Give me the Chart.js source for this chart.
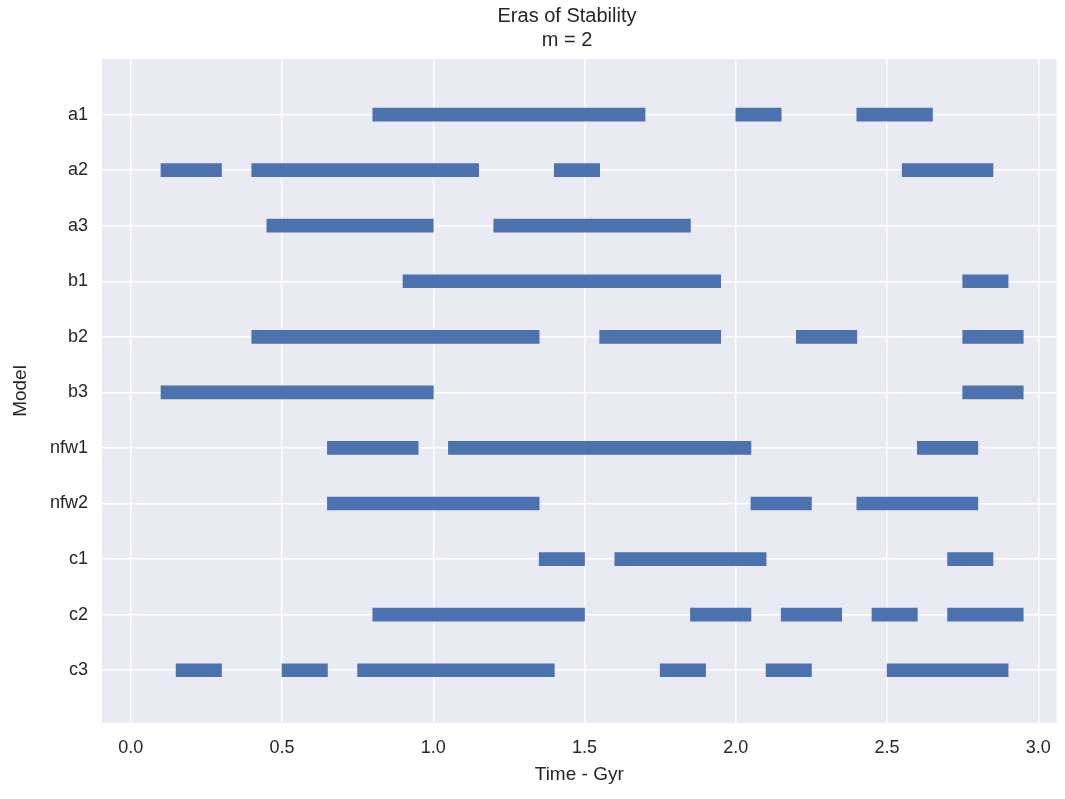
<!DOCTYPE html>
<html>
<head>
<meta charset="utf-8">
<script src="https://cdn.jsdelivr.net/npm/chart.js@4/dist/chart.umd.min.js"></script>
<style>
html,body{margin:0;padding:0;background:#fff;}
#wrap{width:1065px;height:799px;}
</style>
</head>
<body>
<div id="wrap"><canvas id="c" width="1065" height="799"></canvas></div>
<script>
// Models (rows, top to bottom)
const models = ["a1","a2","a3","b1","b2","b3","nfw1","nfw2","c1","c2","c3"];
// Eras of stability per model: [start, end] in Gyr
const eras_a1   = [[0.80,1.70],[2.00,2.15],[2.40,2.65]];
const eras_a2   = [[0.10,0.30],[0.40,1.15],[1.40,1.55],[2.55,2.85]];
const eras_a3   = [[0.45,1.00],[1.20,1.85]];
const eras_b1   = [[0.90,1.95],[2.75,2.90]];
const eras_b2   = [[0.40,1.35],[1.55,1.95],[2.20,2.40],[2.75,2.95]];
const eras_b3   = [[0.10,1.00],[2.75,2.95]];
const eras_nfw1 = [[0.65,0.95],[1.05,2.05],[2.60,2.80]];
const eras_nfw2 = [[0.65,1.35],[2.05,2.25],[2.40,2.80]];
const eras_c1   = [[1.35,1.50],[1.60,2.10],[2.70,2.85]];
const eras_c2   = [[0.80,1.50],[1.85,2.05],[2.15,2.35],[2.45,2.60],[2.70,2.95]];
const eras_c3   = [[0.15,0.30],[0.50,0.65],[0.75,1.40],[1.75,1.90],[2.10,2.25],[2.50,2.90]];
// X tick values
const xTicks = [0.0,0.5,1.0,1.5,2.0,2.5,3.0];

const allEras = [eras_a1,eras_a2,eras_a3,eras_b1,eras_b2,eras_b3,eras_nfw1,eras_nfw2,eras_c1,eras_c2,eras_c3];
const points = [];
allEras.forEach((list, i) => list.forEach(seg => points.push({x: seg, y: i})));

const FONT = '"Liberation Sans", Arial, sans-serif';
const TXT = '#262626';

const titlePlugin = {
  id: 'twoLineTitle',
  afterDraw(chart) {
    const ctx = chart.ctx;
    ctx.save();
    ctx.fillStyle = TXT;
    ctx.font = '20px ' + FONT;
    ctx.textAlign = 'center';
    ctx.textBaseline = 'middle';
    ctx.fillText('Eras of Stability', 567, 16);
    ctx.fillText('m = 2', 567, 40);
    ctx.restore();
  }
};
const bgPlugin = {
  id: 'bg',
  beforeDraw(chart) {
    const {ctx, chartArea: a} = chart;
    ctx.save();
    ctx.fillStyle = '#ffffff';
    ctx.fillRect(0, 0, chart.width, chart.height);
    ctx.fillStyle = '#EAEAF2';
    ctx.fillRect(a.left, a.top, a.right - a.left, a.bottom - a.top);
    ctx.restore();
  }
};

new Chart(document.getElementById('c'), {
  type: 'bar',
  data: {
    datasets: [{
      data: points,
      backgroundColor: '#4C72B0',
      borderWidth: 0,
      barThickness: 13,
      borderSkipped: false
    }]
  },
  plugins: [bgPlugin, titlePlugin],
  options: {
    indexAxis: 'y',
    responsive: false,
    animation: false,
    devicePixelRatio: 1,
    layout: { padding: { top: 59, right: 7, left: 0, bottom: 0 } },
    plugins: { legend: { display: false }, title: { display: false }, tooltip: { enabled: false } },
    scales: {
      x: {
        type: 'linear',
        min: -0.095,
        max: 3.06,
        offset: false,
        afterBuildTicks: s => { s.ticks = xTicks.map(v => ({value: v})); },
        afterFit: s => { s.height = 76; },
        grid: { color: '#ffffff', lineWidth: 1.5, drawTicks: false, offset: false },
        border: { display: false },
        ticks: { color: TXT, font: { family: FONT, size: 18 }, padding: 14, callback: v => v.toFixed(1), maxRotation: 0 },
        title: { display: true, text: 'Time - Gyr', color: TXT, font: { family: FONT, size: 19 }, padding: { top: 0, bottom: 13 } }
      },
      y: {
        type: 'linear',
        reverse: true,
        min: -1,
        max: 10.95,
        offset: false,
        afterBuildTicks: s => { s.ticks = models.map((m, i) => ({value: i})); },
        afterFit: s => { s.width = 102; },
        grid: { color: '#ffffff', lineWidth: 1.5, drawTicks: false, offset: false },
        border: { display: false },
        ticks: { color: TXT, font: { family: FONT, size: 18 }, padding: 14, callback: v => models[v] ?? '' },
        title: { display: true, text: 'Model', color: TXT, font: { family: FONT, size: 19 }, padding: { top: 9, bottom: 0 } }
      }
    }
  }
});
</script>
</body>
</html>
